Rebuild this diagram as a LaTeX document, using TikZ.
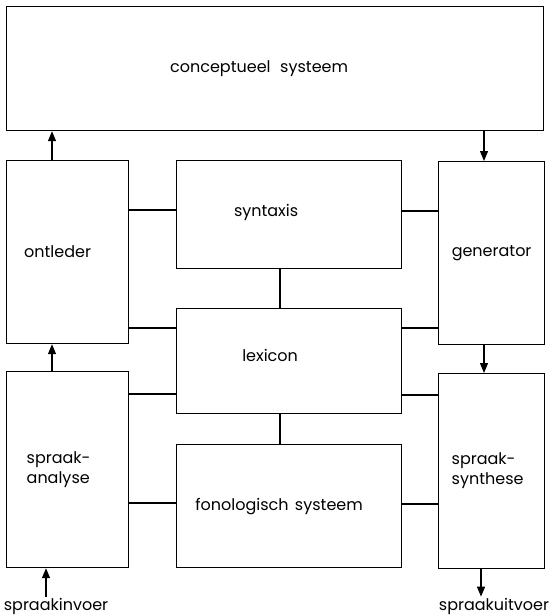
\documentclass[tikz,border=0pt]{standalone}
\usepackage{fontspec}
\setmainfont{Poppins}
\usetikzlibrary{arrows.meta, positioning, calc}

\begin{document}
\begin{tikzpicture}[
    x=1pt, y=-1pt,
    font=\fontsize{16}{20}\selectfont,
    blok/.style={rectangle, draw, line width=1.2pt, anchor=north west, inner sep=0pt},
    tekst/.style={inner sep=1pt, align=left},
    lijn/.style={line width=1.2pt},
    pijl/.style={line width=1.2pt, -{Triangle[length=10pt,width=8pt]}}
]
    \useasboundingbox (0,0) rectangle (550,615);

    \node [blok, minimum width=537pt, minimum height=124pt,
           label={[tekst, name=conceptT, xshift=-16pt]center:conceptueel\hspace{0.6em}systeem}] (concept) at (6,6) {};

    \node [blok, minimum width=122pt, minimum height=183pt,
           label={[tekst, name=ontlederT, xshift=-10pt]center:ontleder}] (ontleder) at (6,160) {};
    \node [blok, minimum width=122pt, minimum height=196pt,
           label={[tekst, name=analyseT, xshift=-9pt]center:spraak-\\analyse}] (analyse) at (6,371) {};

    \node [blok, minimum width=225pt, minimum height=108pt,
           label={[tekst, name=syntaxisT, xshift=-23pt, yshift=2pt]center:syntaxis}] (syntaxis) at (176,160) {};
    \node [blok, minimum width=225pt, minimum height=105pt,
           label={[tekst, name=lexiconT, xshift=-19pt, yshift=6pt]center:lexicon}] (lexicon) at (176,308) {};
    \node [blok, minimum width=225pt, minimum height=123pt,
           label={[tekst, name=fonologieT, xshift=-10pt]center:fonologisch\hspace{0.4em}systeem}] (fonologie) at (176,444) {};

    \node [blok, minimum width=106pt, minimum height=183pt,
           label={[tekst, name=generatorT]center:generator}] (generator) at (438,161) {};
    \node [blok, minimum width=106pt, minimum height=195pt,
           label={[tekst, name=syntheseT, xshift=-4pt]center:spraak-\\synthese}] (synthese) at (438,373) {};

    \node [tekst] (invoer) at (56,606) {spraakinvoer};
    \node [tekst] (uitvoer) at (494,606) {spraakuitvoer};

    % verbindingen met de middelste kolom
    \draw [lijn] (syntaxis.west |- 0,210) -- (ontleder.east |- 0,210);
    \draw [lijn] (syntaxis.east |- 0,211) -- (generator.west |- 0,211);
    \draw [lijn] (lexicon.west |- 0,328) -- (ontleder.east |- 0,328);
    \draw [lijn] (lexicon.east |- 0,328) -- (generator.west |- 0,328);
    \draw [lijn] (lexicon.west |- 0,394) -- (analyse.east |- 0,394);
    \draw [lijn] (lexicon.east |- 0,395) -- (synthese.west |- 0,395);
    \draw [lijn] (fonologie.west |- 0,503) -- (analyse.east |- 0,503);
    \draw [lijn] (fonologie.east |- 0,504) -- (synthese.west |- 0,504);
    \draw [lijn] (syntaxis.south -| 280,0) -- (lexicon.north -| 280,0);
    \draw [lijn] (lexicon.south -| 280,0) -- (fonologie.north -| 280,0);

    % pijlen
    \draw [pijl] (invoer.north -| 46,0) -- (analyse.south -| 46,0);
    \draw [pijl] (analyse.north -| 52,0) -- (ontleder.south -| 52,0);
    \draw [pijl] (ontleder.north -| 52,0) -- (concept.south -| 52,0);
    \draw [pijl] (concept.south -| 484,0) -- (generator.north -| 484,0);
    \draw [pijl] (generator.south -| 484,0) -- (synthese.north -| 484,0);
    \draw [pijl] (synthese.south -| 481,0) -- (uitvoer.north -| 481,0);
\end{tikzpicture}
\end{document}
